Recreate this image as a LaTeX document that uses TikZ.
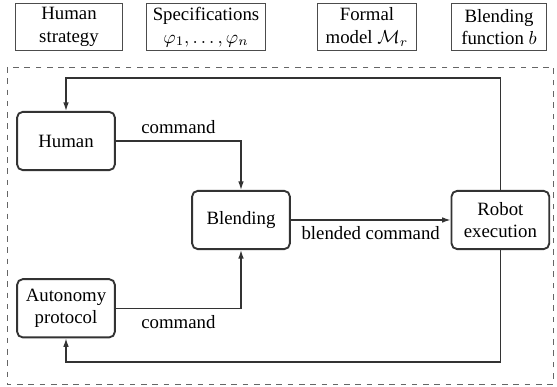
\documentclass[tikz,border=0pt]{standalone}
\usepackage{amsmath,amssymb}
\usepackage{fontspec}
\setmainfont{Liberation Serif}
\usetikzlibrary{arrows.meta,positioning}
\tikzset{
  blockbox/.style={draw=black!80, line width=1pt, rounded corners=3pt,
    minimum width=52pt, minimum height=31pt, align=center},
  infobox/.style={draw=black!70, line width=0.5pt, align=center,
    minimum height=25pt, inner sep=2pt},
  sigarr/.style={-{Latex[length=4.5pt,width=3pt]}, line width=0.7pt, draw=black!80},
}

\begin{document}
\begin{tikzpicture}[x=0.532pt, y=-0.532pt]
  \useasboundingbox (0,0) rectangle (557,387);

  % inputs to the blending loop
  \node[infobox, minimum width=57pt]  (strat) at (69,27)  {Human\\strategy};
  \node[infobox, minimum width=63pt]  (spec)  at (206,27) {Specifications\\$\varphi_1,\dots,\varphi_n$};
  \node[infobox, minimum width=53pt]  (model) at (367,27) {Formal\\model $\mathcal{M}_r$};
  \node[infobox, minimum width=51pt]  (bfun)  at (499,27) {Blending\\function $b$};

  \draw[dashed, black!60, line width=0.5pt] (7,67) rectangle (553,384);

  % shared control loop
  \node[blockbox] (human) at (66,141) {Human};
  \node[blockbox] (blend) at (241,220) {Blending};
  \node[blockbox, right=85pt of blend] (robot) {Robot\\execution};
  \node[blockbox, below=57pt of human] (auto) {Autonomy\\protocol};

  \coordinate (fbtop) at (0,78);
  \coordinate (fbbot) at (0,362);

  \draw[sigarr] (human.east) -| node[pos=0.25, above] {command} (blend.north);
  \draw[sigarr] (auto.east) -| node[pos=0.25, below] {command} (blend.south);
  \draw[sigarr] (blend) -- node[below] {blended command} (robot);
  \draw[sigarr] (robot.north) |- (fbtop -| human.north) -- (human.north);
  \draw[sigarr] (robot.south) |- (fbbot -| auto.south) -- (auto.south);
\end{tikzpicture}
\end{document}
